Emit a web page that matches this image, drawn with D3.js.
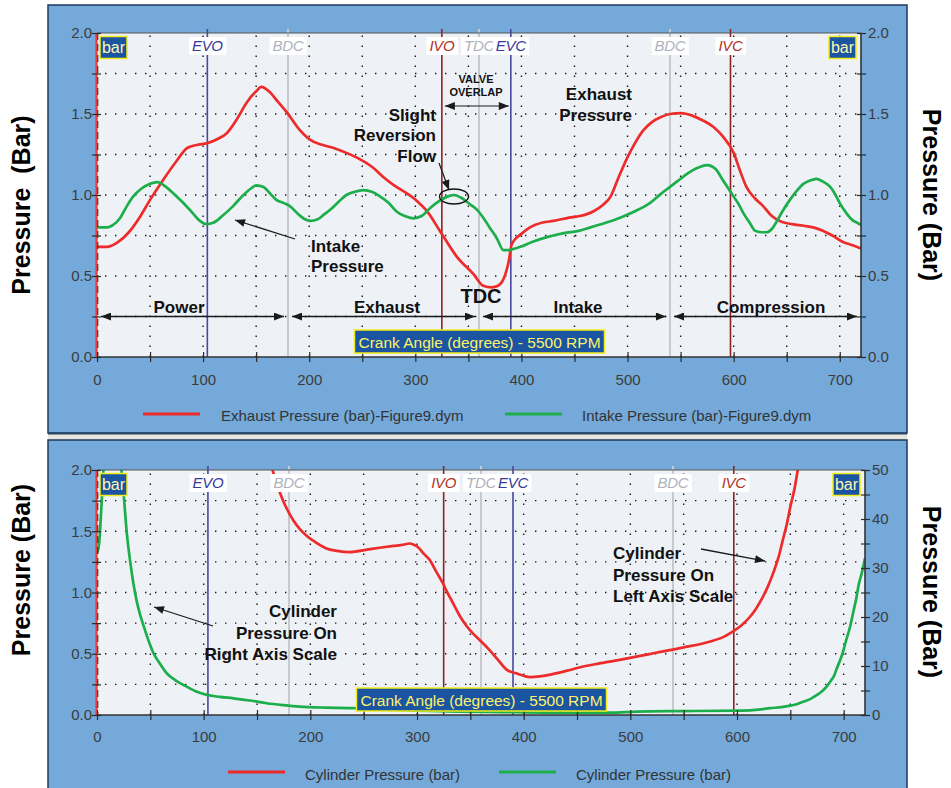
<!DOCTYPE html>
<html><head><meta charset="utf-8">
<script src="https://cdn.jsdelivr.net/npm/d3@7"></script>
<style>
html,body{margin:0;padding:0;background:#fff;}
svg{display:block;font-family:"Liberation Sans",Arial,Helvetica,sans-serif;}
</style></head><body>
<svg id="chart" width="951" height="788"></svg>
<script>
// ---------------- DATA ----------------
const exhaustAngle    = [0,10,20,30,40,50,62,75,85,95,104,115,122,132,141,150,155,162,170,179,190,201,212,223,235,248,260,270,280,292,302,311,323,339,355,364,372,378,383,388,391,400,408,420,430,445,455,468,477,484,491,499,507,515,523,531,540,550,561,571,581,590,600,606,612,620,628,636,645,655,666,675,684,693,703,712,720];
const exhaustPressure = [0.68,0.68,0.71,0.77,0.86,0.97,1.09,1.21,1.29,1.31,1.32,1.35,1.38,1.47,1.57,1.64,1.667,1.64,1.58,1.51,1.41,1.34,1.31,1.29,1.26,1.22,1.17,1.11,1.06,1.01,0.96,0.90,0.78,0.62,0.51,0.44,0.43,0.44,0.48,0.59,0.70,0.76,0.80,0.83,0.84,0.86,0.87,0.90,0.94,0.99,1.10,1.22,1.32,1.40,1.45,1.48,1.50,1.505,1.49,1.46,1.42,1.36,1.26,1.15,1.05,0.98,0.93,0.87,0.835,0.82,0.81,0.80,0.78,0.75,0.71,0.69,0.67];

const intakeAngle    = [0,10,14,22,28,34,42,50,57,65,72,80,90,97,103,110,118,128,138,145,150,157,163,169,176,182,190,196,201,208,214,220,228,235,243,251,259,267,275,282,290,298,306,314,322,330,336,344,352,358,364,370,377,383,389,394,399,410,424,440,455,465,480,493,507,521,532,540,548,556,565,575,583,590,595,600,605,609,615,620,626,631,636,640,646,653,660,666,672,678,685,691,696,700,706,712,716,720];
const intakePressure = [0.80,0.80,0.81,0.86,0.93,0.99,1.04,1.07,1.08,1.05,1.01,0.96,0.89,0.84,0.82,0.83,0.87,0.93,1.00,1.04,1.06,1.05,1.01,0.97,0.95,0.93,0.88,0.85,0.84,0.85,0.88,0.91,0.96,1.00,1.02,1.03,1.02,0.99,0.95,0.90,0.87,0.856,0.87,0.92,0.96,0.99,1.00,0.98,0.94,0.91,0.86,0.80,0.73,0.66,0.66,0.67,0.68,0.71,0.74,0.765,0.78,0.80,0.83,0.86,0.90,0.95,1.01,1.05,1.09,1.13,1.165,1.185,1.16,1.09,1.04,0.99,0.94,0.89,0.83,0.78,0.77,0.77,0.79,0.83,0.90,0.97,1.03,1.07,1.09,1.10,1.08,1.05,1.00,0.95,0.89,0.845,0.83,0.815];

// Cylinder pressure plotted against the left axis (0-2 bar)
const cylLeftAngle    = [163,168,174,184,190,197,205,215,225,237,253,265,278,287,293,297,301,306,312,318,324,329,334,340,347,353,359,368,376,384,393,400,406,415,425,440,453,470,490,508,525,549,575,588,596,604,612,618,624,629,634,639,643,647,650,654,657,659];
const cylLeftPressure = [2.05,1.9,1.76,1.59,1.52,1.46,1.41,1.36,1.34,1.33,1.35,1.365,1.38,1.39,1.40,1.39,1.37,1.32,1.265,1.17,1.08,0.99,0.91,0.81,0.72,0.66,0.61,0.53,0.45,0.37,0.34,0.32,0.31,0.315,0.33,0.36,0.39,0.42,0.45,0.48,0.51,0.55,0.60,0.64,0.68,0.73,0.80,0.87,0.96,1.05,1.16,1.29,1.43,1.57,1.70,1.85,2.0,2.08];

// Cylinder pressure plotted against the right axis (0-50 bar)
const cylRightAngle    = [0,2,4,6,8,12,18,22,25,28,31,34,37,40,44,47,50,53,58,65,74,84,93,103,115,128,145,159,175,190,215,240,270,300,340,380,420,481,506,550,605,620,631,642,650,656,662,669,675,680,684,688,691,693,696,699,702,706,709,712,714,717,720];
const cylRightPressure = [33,35,42,50,55,58,57,52,45,37,31.5,27,23.5,20.8,18,16,14.2,12.6,10.8,8.6,7,5.8,4.8,4.1,3.7,3.4,2.9,2.4,2.0,1.7,1.5,1.4,1.1,0.9,0.7,0.6,0.5,0.5,0.7,0.8,0.9,1.1,1.4,1.6,1.9,2.2,2.7,3.3,4.1,4.9,5.8,7,8,9.2,10.8,12.6,15,18,21,24,26.5,29,32];

const valveEvents = ["EVO","BDC","IVO","TDC","EVC","BDC","IVC"];
const valveAngles = [104,180,325,360,390,540,597];
const valveKinds  = ["exh","dc","int","dc","exh","dc","int"];

const xTickValues   = [0,100,200,300,400,500,600,700];
const yTicksLeft    = [0,0.5,1.0,1.5,2.0];
const yTicksRightB  = [0,10,20,30,40,50];

const phaseNames = ["Power","Exhaust","Intake","Compression"];
const phaseStart = [0,180,360,540];
const phaseEnd   = [180,360,540,720];

const legendTop    = ["Exhaust Pressure (bar)-Figure9.dym","Intake Pressure (bar)-Figure9.dym"];
const legendBottom = ["Cylinder Pressure (bar)","Cylinder Pressure (bar)"];
const axisTitle    = "Crank Angle (degrees) - 5500 RPM";

// ---------------- STYLE ----------------
const C = {
  panel:"#74a9da", panelEdge:"#1e3a5c", plotBg:"#eef2f6",
  red:"#ee2b2b", green:"#1cae4a",
  exhLine:"#4646a6", intLine:"#8e2222", dcLine:"#c6cacf",
  exhText:"#3a3a9a", intText:"#b0342a", dcText:"#aeb2bd",
  boxBg:"#1b54a0", boxEdge:"#f2ec1a", boxText:"#fbf36a"
};

const svg = d3.select("#chart");
const defs = svg.append("defs");
defs.append("marker").attr("id","ah").attr("viewBox","0 0 10 8")
  .attr("refX",10).attr("refY",4).attr("markerWidth",11).attr("markerHeight",8)
  .attr("markerUnits","userSpaceOnUse").attr("orient","auto-start-reverse")
  .append("path").attr("d","M0,0L10,4L0,8Z").attr("fill","#1a1a1a");
defs.append("marker").attr("id","ah2").attr("viewBox","0 0 10 8")
  .attr("refX",10).attr("refY",4).attr("markerWidth",12).attr("markerHeight",8)
  .attr("markerUnits","userSpaceOnUse").attr("orient","auto-start-reverse")
  .append("path").attr("d","M0,0L10,4L0,8Z").attr("fill","#1a1a1a");

// ---------------- PANELS ----------------
svg.append("rect").attr("x",48).attr("y",5).attr("width",859).attr("height",428)
  .attr("fill",C.panel).attr("stroke",C.panelEdge).attr("stroke-width",1.5);
svg.append("rect").attr("x",48).attr("y",433).attr("width",859).attr("height",8)
  .attr("fill","#e7e7df");
svg.append("line").attr("x1",48).attr("x2",907).attr("y1",433.5).attr("y2",433.5).attr("stroke","#2a4766").attr("stroke-width",2);
svg.append("rect").attr("x",48).attr("y",440).attr("width",859).attr("height",360)
  .attr("fill",C.panel).attr("stroke",C.panelEdge).attr("stroke-width",1.5);

function isMultiple(v, step){ return Math.abs(v/step - Math.round(v/step)) < 1e-6; }

function drawPlot(o){
  const g = svg.append("g");
  const x = d3.scaleLinear().domain([0,720]).range([o.left,o.right]);
  const y = d3.scaleLinear().domain([0,2]).range([o.bottom,o.top]);
  const yR = d3.scaleLinear().domain(o.rightDomain).range([o.bottom,o.top]);
  const clipId = "clip"+o.id;
  defs.append("clipPath").attr("id",clipId).append("rect")
    .attr("x",o.left).attr("y",o.top).attr("width",o.right-o.left).attr("height",o.bottom-o.top);

  g.append("rect").attr("x",o.left).attr("y",o.top).attr("width",o.right-o.left).attr("height",o.bottom-o.top)
    .attr("fill",C.plotBg);

  // dotted grid
  const grid = g.append("g").attr("stroke","#1a1a1a").attr("stroke-width",1.4).attr("stroke-dasharray","1.4,8.6");
  grid.selectAll("line.v").data(d3.range(50,720,50)).join("line").attr("class","v")
    .attr("x1",d=>x(d)).attr("x2",d=>x(d)).attr("y1",o.bottom).attr("y2",o.top);
  grid.selectAll("line.h").data(d3.range(0.25,2,0.25)).join("line").attr("class","h")
    .attr("y1",d=>y(d)).attr("y2",d=>y(d)).attr("x1",o.left+8).attr("x2",o.right);

  // valve event lines
  valveAngles.forEach((a,i)=>{
    const k = valveKinds[i];
    g.append("line").attr("x1",x(a)).attr("x2",x(a)).attr("y1",o.top-4).attr("y2",o.bottom)
      .attr("stroke", k==="exh"?C.exhLine:k==="int"?C.intLine:C.dcLine)
      .attr("stroke-width", k==="dc"?2:1.6);
  });

  // series
  const curves = g.append("g").attr("clip-path",`url(#${clipId})`);
  o.series.forEach(s=>{
    const pts = s.angle.map((a,i)=>[a,s.values[i]]);
    const ys = s.axis==="right"? yR : y;
    curves.append("path").datum(pts)
      .attr("fill","none").attr("stroke",s.color).attr("stroke-width",2.7)
      .attr("stroke-linejoin","round")
      .attr("d", d3.line().x(d=>x(d[0])).y(d=>ys(d[1])).curve(d3.curveMonotoneX));
  });

  // border lines
  g.append("line").attr("x1",o.left).attr("x2",o.right).attr("y1",o.top).attr("y2",o.top).attr("stroke","#555").attr("stroke-width",1.2);
  g.append("line").attr("x1",o.left).attr("x2",o.right+1).attr("y1",o.bottom).attr("y2",o.bottom).attr("stroke","#333").attr("stroke-width",1.6);
  g.append("line").attr("x1",o.right).attr("x2",o.right).attr("y1",o.top).attr("y2",o.bottom).attr("stroke","#333").attr("stroke-width",1.6);
  g.append("line").attr("x1",x(0)-0.5).attr("x2",x(0)-0.5).attr("y1",o.top).attr("y2",o.bottom).attr("stroke","#f03a3a").attr("stroke-width",2.2);
  g.append("line").attr("x1",x(0)+0.8).attr("x2",x(0)+0.8).attr("y1",o.top).attr("y2",o.bottom).attr("stroke","#222").attr("stroke-width",1).attr("stroke-dasharray","7,4");

  // axes
  const fmtL = d => isMultiple(d,0.5) ? d3.format(".1f")(d) : "";
  const axL = g.append("g").attr("transform",`translate(${o.left},0)`)
    .call(d3.axisLeft(y).tickValues(d3.range(0,2.001,0.25)).tickFormat(fmtL).tickSize(5).tickPadding(0));
  const axR = g.append("g").attr("transform",`translate(${o.right},0)`)
    .call(d3.axisRight(yR).tickValues(o.rightTicks).tickFormat(o.rightFormat).tickSize(5).tickPadding(2));
  const axB = g.append("g").attr("transform",`translate(0,${o.bottom})`)
    .call(d3.axisBottom(x).tickValues(d3.range(0,720,50)).tickFormat(d=>isMultiple(d,100)?d:"").tickSize(5).tickPadding(o.xPad));
  [axL,axR,axB].forEach(a=>{
    a.select(".domain").remove();
    a.selectAll("text").attr("font-size",15).attr("fill","#3c3c3c").attr("font-family","'Liberation Sans',Arial,sans-serif");
    a.selectAll("line").attr("stroke","#2a2a2a").attr("stroke-width",1.2);
  });
  axL.selectAll(".tick line").attr("x1",4);
  axR.selectAll(".tick line").attr("x1",-4);
  axB.selectAll(".tick line").attr("y1",-5);

  // valve labels
  valveAngles.forEach((a,i)=>{
    const k = valveKinds[i];
    const lg = g.append("g");
    const t = lg.append("text").attr("x",x(a)).attr("y",o.top+18).attr("text-anchor","middle")
      .attr("font-size",15).attr("font-style","italic")
      .attr("fill", k==="exh"?C.exhText:k==="int"?C.intText:C.dcText)
      .attr("letter-spacing", -0.3)
      .text(valveEvents[i]);
    const bb = t.node().getBBox();
    lg.insert("rect","text").attr("x",bb.x-3).attr("y",o.top+4).attr("width",bb.width+6).attr("height",18).attr("fill","#fff");
  });

  // "bar" unit boxes
  [o.left+3, o.right-32].forEach(bx=>{
    g.append("rect").attr("x",bx).attr("y",o.top+3.5).attr("width",27).attr("height",22)
      .attr("fill",C.boxBg).attr("stroke",C.boxEdge).attr("stroke-width",1.5);
    g.append("text").attr("x",bx+13.5).attr("y",o.top+20).attr("text-anchor","middle")
      .attr("font-size",16).attr("fill","#fdf7b0").text("bar");
  });

  // crank angle caption box
  const cx = o.captionX;
  g.append("rect")
    .attr("x",cx-125).attr("y",o.bottom-27).attr("width",250).attr("height",23)
    .attr("fill",C.boxBg).attr("stroke",C.boxEdge).attr("stroke-width",1.5);
  g.append("text").attr("x",cx).attr("y",o.bottom-9).attr("text-anchor","middle")
    .attr("font-size",15.5).attr("fill",C.boxText).text(axisTitle);

  return {g,x,y,yR};
}

// ---------------- TOP PLOT ----------------
const topPlot = drawPlot({
  id:"t", left:97, right:861, top:33, bottom:357, xPad:12,
  rightDomain:[0,2], rightTicks:d3.range(0,2.001,0.25), rightFormat:d=>isMultiple(d,0.5)?d3.format(".1f")(d):"",
  captionX:479.5,
  series:[
    {angle:exhaustAngle, values:exhaustPressure, color:C.red},
    {angle:intakeAngle,  values:intakePressure,  color:C.green}
  ]
});

// phase arrows
const tg = topPlot.g, tx = topPlot.x, ty = topPlot.y;
phaseNames.forEach((p,i)=>{
  tg.append("line").attr("x1",tx(phaseStart[i])+4).attr("x2",tx(phaseEnd[i])-4)
    .attr("y1",ty(0.25)).attr("y2",ty(0.25)).attr("stroke","#1a1a1a").attr("stroke-width",1.5)
    .attr("marker-start","url(#ah2)").attr("marker-end","url(#ah2)");
});
const phaseLabelX = [179,387,578,771];
phaseNames.forEach((p,i)=>{
  tg.append("text").attr("x",phaseLabelX[i]).attr("y",ty(0.25)-4).attr("text-anchor","middle")
    .attr("font-size",17).attr("font-weight","bold").attr("fill","#111").text(p);
});
tg.append("text").attr("x",tx(360)+2).attr("y",303).attr("text-anchor","middle")
  .attr("font-size",20).attr("font-weight","bold").attr("fill","#111").text("TDC");

// valve overlap
tg.append("text").attr("x",476).attr("y",82.5).attr("text-anchor","middle").attr("font-size",11).attr("font-weight","bold").attr("fill","#111").text("VALVE");
tg.append("text").attr("x",476).attr("y",96).attr("text-anchor","middle").attr("font-size",11).attr("font-weight","bold").attr("fill","#111").text("OVERLAP");
tg.append("line").attr("x1",tx(325)+3).attr("x2",tx(390)-2).attr("y1",106).attr("y2",106)
  .attr("stroke","#1a1a1a").attr("stroke-width",1.2)
  .attr("marker-start","url(#ah)").attr("marker-end","url(#ah)");

function multiText(g, lines, x, ys, anchor){
  lines.forEach((l,i)=>{
    g.append("text").attr("x",x).attr("y",ys[i]).attr("text-anchor",anchor)
      .attr("font-size",17).attr("font-weight","bold").attr("fill","#111").text(l);
  });
}
multiText(tg, ["Slight","Reversion","Flow"], 436, [120.5,141,161.5], "end");
tg.append("line").attr("x1",439).attr("y1",163).attr("x2",449).attr("y2",190)
  .attr("stroke","#1a1a1a").attr("stroke-width",1.2).attr("marker-end","url(#ah)");
tg.append("ellipse").attr("cx",tx(336)+0.5).attr("cy",ty(1.0)+1.5).attr("rx",14.5).attr("ry",7.5)
  .attr("fill","none").attr("stroke","#111").attr("stroke-width",1.3);
multiText(tg, ["Exhaust","Pressure"], 632, [100,121], "end");
multiText(tg, ["Intake","Pressure"], 311, [251.5,271.5], "start");
tg.append("line").attr("x1",295).attr("y1",239).attr("x2",235).attr("y2",220)
  .attr("stroke","#1a1a1a").attr("stroke-width",1.3).attr("marker-end","url(#ah)");

// legend top
[[143,200,221,C.red,legendTop[0]],[505,562,582,C.green,legendTop[1]]].forEach(l=>{
  svg.append("line").attr("x1",l[0]).attr("x2",l[1]).attr("y1",414).attr("y2",414).attr("stroke",l[3]).attr("stroke-width",3);
  svg.append("text").attr("x",l[2]).attr("y",421).attr("font-size",15).attr("fill","#333").text(l[4]);
});

// ---------------- BOTTOM PLOT ----------------
const botPlot = drawPlot({
  id:"b", left:97, right:865, top:470, bottom:715, xPad:11,
  rightDomain:[0,50], rightTicks:d3.range(0,50.001,5), rightFormat:d=>isMultiple(d,10)?d:"",
  captionX:481.5,
  series:[
    {angle:cylLeftAngle,  values:cylLeftPressure,  color:C.red, axis:"left"},
    {angle:cylRightAngle, values:cylRightPressure, color:C.green, axis:"right"}
  ]
});
const bg = botPlot.g;
multiText(bg, ["Cylinder","Pressure On","Right Axis Scale"], 337, [617,639,660], "end");
bg.append("line").attr("x1",213).attr("y1",626).attr("x2",154).attr("y2",607)
  .attr("stroke","#1a1a1a").attr("stroke-width",1.3).attr("marker-end","url(#ah)");
multiText(bg, ["Cylinder","Pressure On","Left Axis Scale"], 613, [559,580.5,602], "start");
bg.append("line").attr("x1",701).attr("y1",549).attr("x2",765).attr("y2",561)
  .attr("stroke","#1a1a1a").attr("stroke-width",1.3).attr("marker-end","url(#ah)");

[[228,285,305,C.red,legendBottom[0]],[499,556,576,C.green,legendBottom[1]]].forEach(l=>{
  svg.append("line").attr("x1",l[0]).attr("x2",l[1]).attr("y1",772).attr("y2",772).attr("stroke",l[3]).attr("stroke-width",3);
  svg.append("text").attr("x",l[2]).attr("y",779.5).attr("font-size",15).attr("fill","#333").text(l[4]);
});

// ---------------- SIDE TITLES ----------------
function sideTitle(txt, x, y, rot){
  svg.append("text").attr("transform",`translate(${x},${y}) rotate(${rot})`)
    .attr("text-anchor","middle").attr("dy","0.35em").attr("font-size",25).attr("font-weight","bold")
    .attr("fill","#000").style("white-space","pre").text(txt);
}
sideTitle("Pressure  (Bar)", 21, 205, -90);
sideTitle("Pressure (Bar)", 932, 195, 90);
sideTitle("Pressure (Bar)", 21, 570, -90);
sideTitle("Pressure (Bar)", 932, 592, 90);
</script>
</body></html>
